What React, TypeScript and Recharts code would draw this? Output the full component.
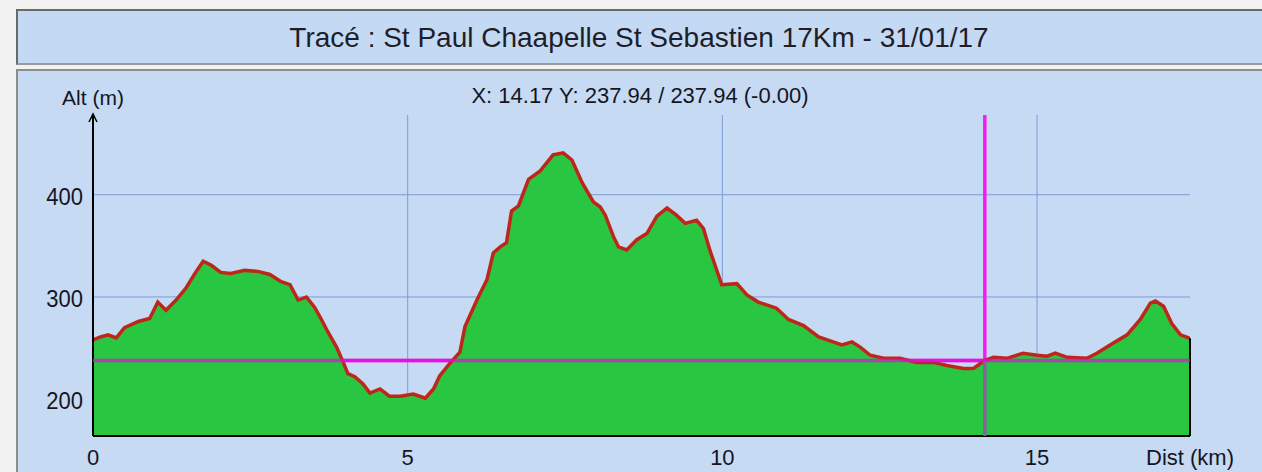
import { ComposedChart, Area, XAxis, YAxis, CartesianGrid, ReferenceLine } from 'recharts';

// profile (km, m)
const dist = [
  0, 0.12, 0.24, 0.37, 0.5, 0.72, 0.9, 1.03, 1.16, 1.32, 1.48, 1.62, 1.75, 1.88, 2.03, 2.19, 2.41, 2.62, 2.81, 2.99,
  3.13, 3.26, 3.39, 3.52, 3.63, 3.73, 3.87, 3.97, 4.05, 4.16, 4.29, 4.4, 4.56, 4.71, 4.88, 5.09, 5.28, 5.41, 5.51, 5.67,
  5.83, 5.91, 6.1, 6.26, 6.36, 6.47, 6.57, 6.65, 6.76, 6.92, 7.1, 7.31, 7.47, 7.61, 7.77, 7.95, 8.06, 8.14, 8.27, 8.35,
  8.48, 8.64, 8.8, 8.96, 9.12, 9.27, 9.41, 9.59, 9.7, 9.8, 9.99, 10.23, 10.39, 10.57, 10.86, 11.05, 11.29, 11.53, 11.76, 11.9,
  12.06, 12.19, 12.35, 12.56, 12.82, 13.09, 13.35, 13.57, 13.83, 13.99, 14.17, 14.31, 14.52, 14.78, 15.0, 15.16, 15.29, 15.48, 15.79, 15.95,
  16.16, 16.43, 16.64, 16.8, 16.88, 17.01, 17.14, 17.28, 17.43,
];
const alt = [
  258, 261, 263, 260, 270, 276, 279, 295, 287, 297, 309, 323, 335, 331, 324, 323, 326, 325, 322, 315,
  312, 297, 300, 290, 278, 266, 251, 237, 225, 222, 215, 206, 210, 203, 203, 205, 201, 210, 223, 235,
  246, 271, 297, 317, 343, 349, 353, 384, 389, 415, 423, 439, 441, 434, 412, 393, 388, 380, 359, 349,
  346, 356, 362, 379, 387, 380, 372, 375, 367, 346, 312, 313, 302, 295, 289, 278, 272, 261, 256, 253,
  256, 251, 243, 240, 240, 236, 236, 233, 230, 230, 238, 241, 240, 245, 243, 242, 245, 241, 240, 245,
  253, 263, 278, 294, 296, 291, 274, 263, 259.5,
];
const xTicks = [0, 5, 10, 15, 17.43];
const yTicks = [200, 300, 400];
const cursorX = 14.17;
const cursorY = 237.94;

const data = dist.map((km, i) => ({ km, alt: alt[i] }));

const W = 1262;
const H = 472;
const PLOT_LEFT = 93;
const PLOT_RIGHT = 1190;
const PLOT_TOP = 115;
const PLOT_BOTTOM = 436;
const FONT = 'Liberation Sans, Arial, sans-serif';
const INK = '#15151f';

const XTick = (props: any) => {
  const { x, y, payload } = props;
  const label = payload.value === 17.43 ? 'Dist (km)' : String(payload.value);
  return (
    <text x={x} y={y + 29} textAnchor="middle" fontSize={22} fontFamily={FONT} fill={INK}>
      {label}
    </text>
  );
};

const YTick = (props: any) => {
  const { x, y, payload } = props;
  return (
    <text
      transform={`translate(${x},${y + 10}) scale(1,1.12)`}
      textAnchor="end"
      fontSize={22}
      fontFamily={FONT}
      fill={INK}
    >
      {payload.value}
    </text>
  );
};

export default function App() {
  return (
    <div style={{ position: 'absolute', left: 0, top: 0, width: W, height: H, background: '#f2f2f2', overflow: 'hidden' }}>
      <div
        style={{
          position: 'absolute', left: 16, top: 9, width: W - 16, height: 56,
          background: '#c4d9f4', borderTop: '2px solid #6a6a6a', borderLeft: '2px solid #6a6a6a',
          borderBottom: '2px solid #9a9a9a', boxSizing: 'border-box',
        }}
      />
      <div
        style={{
          position: 'absolute', left: 16, top: 69, width: W - 16, height: H - 69,
          background: '#c6daf4', borderTop: '2px solid #8c8c8c', borderLeft: '2px solid #8c8c8c',
          boxSizing: 'border-box',
        }}
      />
      <div style={{ position: 'absolute', left: 0, top: 0 }}>
        <ComposedChart
          width={W}
          height={H}
          data={data}
          margin={{ top: PLOT_TOP, right: W - PLOT_RIGHT, bottom: 0, left: 0 }}
        >
          <CartesianGrid stroke="#7e9bd8" strokeWidth={1} verticalValues={[5, 10, 15]} horizontalValues={[200, 300, 400]} />
          <XAxis
            type="number"
            dataKey="km"
            domain={[0, 17.43]}
            ticks={xTicks}
            interval={0}
            height={H - PLOT_BOTTOM}
            tickSize={0}
            tickMargin={0}
            tick={<XTick />}
            axisLine={{ stroke: '#000', strokeWidth: 2 }}
            allowDataOverflow
          />
          <YAxis
            type="number"
            domain={[164, 478]}
            ticks={yTicks}
            interval={0}
            width={PLOT_LEFT}
            tickSize={0}
            tickMargin={10}
            tick={<YTick />}
            axisLine={{ stroke: '#000', strokeWidth: 2 }}
            allowDataOverflow
          />
          <ReferenceLine x={cursorX} stroke="#f21ef0" strokeWidth={3.5} zIndex={50} />
          <ReferenceLine y={cursorY} stroke="#f21ef0" strokeWidth={3.5} zIndex={50} />
          <Area
            type="linear"
            dataKey="alt"
            fill="#29c642"
            fillOpacity={1}
            stroke="#bf261a"
            strokeWidth={3.5}
            dot={false}
            activeDot={false}
            isAnimationActive={false}
          />
          <ReferenceLine
            segment={[{ x: 17.43, y: 164 }, { x: 17.43, y: 259.5 }]}
            stroke="#000"
            strokeWidth={2}
          />
          <ReferenceLine
            segment={[{ x: cursorX, y: 164 }, { x: cursorX, y: cursorY }]}
            stroke="#8a5fa6"
            strokeWidth={3.5}
            zIndex={700}
          />
          <ReferenceLine y={cursorY} stroke="#dc10dc" strokeOpacity={0.72} strokeWidth={3.5} zIndex={700} />
        </ComposedChart>
      </div>
      <svg width={W} height={H} style={{ position: 'absolute', left: 0, top: 0, pointerEvents: 'none' }}>
        <text x={639} y={47} textAnchor="middle" fontSize={28} fontFamily={FONT} fill="#1e1e28">
          Tracé : St Paul Chaapelle St Sebastien 17Km - 31/01/17
        </text>
        <text x={640} y={103} textAnchor="middle" fontSize={22} fontFamily={FONT} fill={INK}>
          X: 14.17 Y: 237.94 / 237.94 (-0.00)
        </text>
        <text x={PLOT_LEFT} y={105} textAnchor="middle" fontSize={21} fontFamily={FONT} fill={INK}>
          Alt (m)
        </text>
        <path
          d={`M${PLOT_LEFT - 4},${PLOT_TOP + 7} L${PLOT_LEFT},${PLOT_TOP - 1} L${PLOT_LEFT + 4},${PLOT_TOP + 7}`}
          stroke="#000"
          strokeWidth={1.5}
          fill="none"
        />
      </svg>
    </div>
  );
}
